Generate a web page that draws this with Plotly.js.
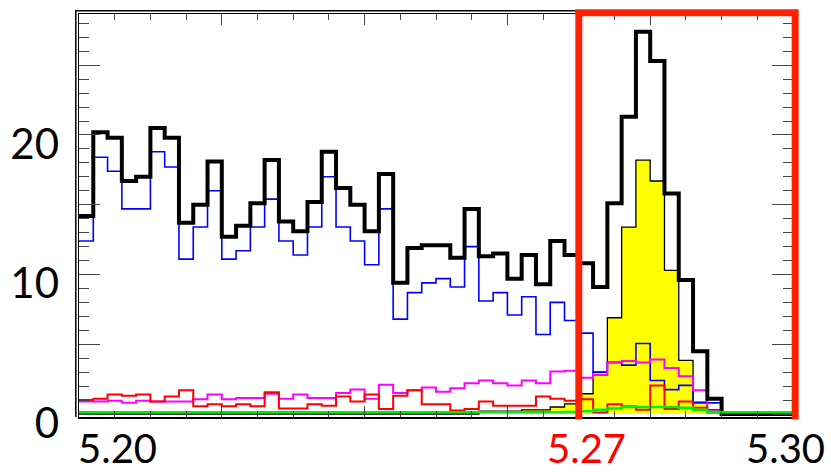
<!DOCTYPE html>
<html>
<head>
<meta charset="utf-8">
<script src="https://cdn.plot.ly/plotly-3.0.1.min.js"></script>
<style>html,body{margin:0;padding:0;background:#fff;} #chart{width:831px;height:473px;}</style>
</head>
<body>
<div id="chart"></div>
<script>
// Histogram binning (50 bins from 5.20 to 5.30)
const binLow = 5.20;
const binWidth = 0.002;
const nBins = 50;

// Total (black, thick)
const totalCounts = [14.2,20.2,19.8,16.7,17.0,20.5,19.8,13.7,15.0,18.1,
                     12.7,13.5,15.1,18.2,13.8,13.1,15.2,18.8,16.2,15.0,
                     13.1,17.2,9.4,11.9,12.1,12.1,11.2,14.7,11.3,11.5,
                     9.7,11.4,9.3,12.4,11.4,10.8,9.1,15.1,21.3,27.4,
                     25.3,15.8,9.6,4.5,1.1,0,0,0,0,0];
// Combinatorial background (blue)
const blueCounts = [12.4,18.4,17.4,14.7,14.7,18.8,17.7,11.1,13.4,16.0,
                    11.1,11.7,13.4,15.4,12.4,11.4,13.4,17.0,13.4,12.4,
                    10.7,14.7,6.8,8.7,9.4,9.7,9.1,12.0,8.1,8.7,
                    7.1,8.4,5.7,8.0,6.7,5.8,3.0,3.7,3.5,5.05,
                    2.4,1.75,2.05,0.8,0.8,0,0,0,0,0];
// Red component
const redCounts = [1.0,1.1,1.4,1.3,1.4,0.9,1.25,1.7,0.55,0.7,
                   0.55,0.7,0.55,1.55,0.4,0.4,0.7,0.6,1.25,0.9,
                   1.4,0.35,1.3,1.7,0.7,0.7,0.25,0.35,0.9,0.6,
                   0.6,0.6,1.25,1.1,0.95,1.05,0.1,0.7,0.55,0.3,
                   2.05,0.35,0.9,0.45,0.1,0,0,0,0,0];
// Magenta component
const magentaCounts = [0.9,0.9,0.95,0.8,0.95,0.9,0.9,0.9,1.05,1.4,
                       1.05,1.15,1.15,1.45,1.1,1.4,1.15,1.15,1.5,1.75,
                       1.1,2.1,1.5,1.7,1.9,1.6,1.85,2.2,2.4,2.2,
                       2.05,2.4,2.2,3.05,3.1,2.6,2.8,3.7,3.8,3.7,
                       3.9,3.3,2.7,1.7,0.2,0,0,0,0,0];
// Green component
const greenCounts = [0.13,0.13,0.13,0.13,0.13,0.13,0.13,0.13,0.13,0.13,
                     0.13,0.13,0.13,0.13,0.13,0.13,0.13,0.13,0.13,0.13,
                     0.13,0.13,0.13,0.13,0.13,0.13,0.13,0.13,0.13,0.13,
                     0.13,0.13,0.13,0.13,0.15,0.2,0.3,0.4,0.5,0.5,
                     0.5,0.5,0.45,0.3,0.15,0.13,0.13,0.13,0.13,0.13];
// Signal (yellow filled)
const signalCounts = [0,0,0,0,0,0,0,0,0,0,
                      0,0,0,0,0,0,0,0,0,0,
                      0,0,0,0,0,0,0,0,0.2,0.2,
                      0.2,0.3,0.3,0.5,0.73,1.45,3.0,6.9,13.4,18.2,
                      16.7,10.3,3.85,0.85,0.3,0,0,0,0,0];

// Axis labels
const xLabels = ["5.20", "5.27", "5.30"];
const xLabelPos = [5.20, 5.2711, 5.2989];
const yTickVals = [0, 5, 10, 15, 20, 25];
const yTickText = ["0", "", "10", "", "20", ""];
const signalWindow = [5.27, 5.3003];

const xRange = [5.20, 5.30];
const edges = [];
for (let i = 0; i <= nBins; i++) edges.push(+(binLow + i * binWidth).toFixed(4));
function stepY(vals) { return vals.concat([vals[vals.length - 1]]); }

function stepTrace(vals, color, width, extra) {
  return Object.assign({
    type: 'scatter', mode: 'lines', x: edges, y: stepY(vals),
    line: {color: color, width: width, shape: 'hv'},
    hoverinfo: 'skip', showlegend: false
  }, extra || {});
}

const traces = [
  stepTrace(signalCounts, '#000000', 1.3, {fill: 'tozeroy', fillcolor: '#ffff00'}),
  stepTrace(blueCounts, '#0000ff', 1.6),
  stepTrace(magentaCounts, '#ff00ff', 2),
  stepTrace(redCounts, '#ff0000', 2),
  stepTrace(totalCounts, '#000000', 4),
  stepTrace(greenCounts, '#00ee00', 2.5)
];

const FONT = 'Lato, "Open Sans", sans-serif';
const W = 831, H = 473, L = 79, R = 38, T = 14, B = 56;
const pw = W - L - R, ph = H - T - B;
const off = 3.2;
const toPaperX = v => (v - xRange[0]) / (xRange[1] - xRange[0]);
const bx0 = toPaperX(signalWindow[0]), bx1 = toPaperX(signalWindow[1]);

const layout = {
  width: W, height: H,
  margin: {l: L, r: R, t: T, b: B, pad: 0},
  paper_bgcolor: '#ffffff', plot_bgcolor: '#ffffff',
  showlegend: false,
  xaxis: {
    range: xRange, tickmode: 'linear', tick0: 5.20, dtick: 0.02,
    ticks: 'inside', ticklen: 11, tickwidth: 1, tickcolor: '#444',
    showticklabels: false, showgrid: false, zeroline: false,
    showline: true, linecolor: '#000', linewidth: 1.5, mirror: 'allticks',
    minor: {tickmode: 'linear', tick0: 5.20, dtick: 0.005, ticks: 'inside', ticklen: 6, tickwidth: 1, tickcolor: '#444', showgrid: false}
  },
  yaxis: {
    range: [-0.215, 28.67], tickmode: 'array', tickvals: yTickVals, ticktext: yTickText,
    ticks: 'inside', ticklen: 21, tickwidth: 1, tickcolor: '#444',
    showgrid: false, zeroline: false,
    showline: true, linecolor: '#000', linewidth: 1.5, mirror: 'allticks',
    tickfont: {family: FONT, size: 42, color: '#000'},
    ticklabelstandoff: 10, ticklabelshift: 9,
    minor: {tickmode: 'linear', tick0: 0, dtick: 1, ticks: 'inside', ticklen: 10, tickwidth: 1, tickcolor: '#444', showgrid: false}
  },
  shapes: [
    {type: 'path', xref: 'paper', yref: 'paper',
     path: 'M ' + (-off / pw) + ' 0 L ' + (-off / pw) + ' ' + (1 + off / ph) + ' L ' + (1 + off / pw) + ' ' + (1 + off / ph) + ' L ' + (1 + off / pw) + ' 0',
     line: {color: '#000', width: 1.5}},
    {type: 'path', xref: 'paper', yref: 'paper',
     path: 'M ' + bx0 + ' -0.006 L ' + bx0 + ' 1.0032 L ' + bx1 + ' 1.0032 L ' + bx1 + ' -0.006',
     line: {color: '#ff2200', width: 7}}
  ],
  annotations: [
    {x: xLabelPos[0], y: -0.1385, xref: 'x', yref: 'paper', text: xLabels[0], showarrow: false,
     xanchor: 'left', yanchor: 'bottom', xshift: -2, borderpad: 0, font: {family: FONT, size: 40, color: '#000'}},
    {x: xLabelPos[1], y: -0.1385, xref: 'x', yref: 'paper', text: xLabels[1], showarrow: false,
     xanchor: 'center', yanchor: 'bottom', borderpad: 0, font: {family: FONT, size: 40, color: '#ff0000'}},
    {x: xLabelPos[2], y: -0.1385, xref: 'x', yref: 'paper', text: xLabels[2], showarrow: false,
     xanchor: 'center', yanchor: 'bottom', borderpad: 0, font: {family: FONT, size: 40, color: '#000'}}
  ]
};

Plotly.newPlot('chart', traces, layout, {staticPlot: true, displayModeBar: false});
</script>
</body>
</html>
